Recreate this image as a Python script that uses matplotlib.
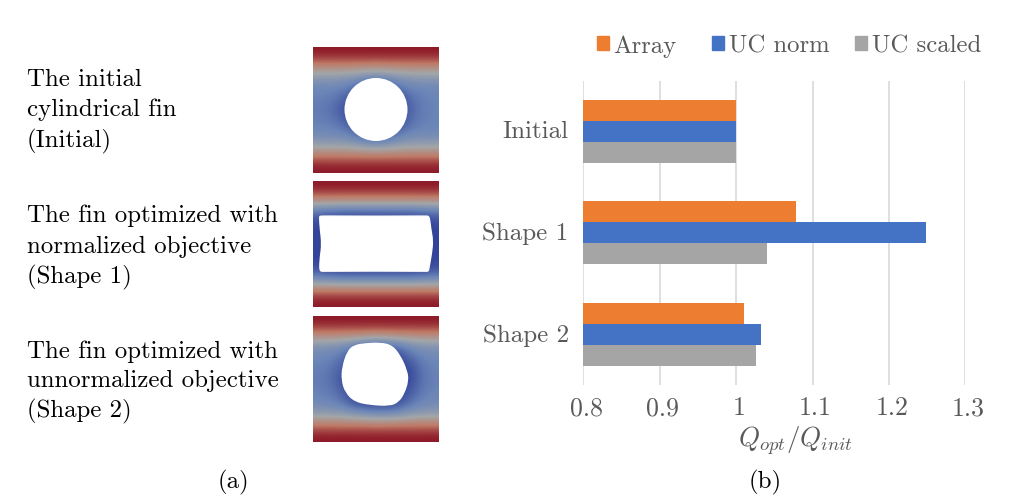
import numpy as np
import matplotlib
matplotlib.use("Agg")
import matplotlib.pyplot as plt
from matplotlib.colors import LinearSegmentedColormap
from matplotlib.patches import Circle, PathPatch, Patch
from matplotlib.path import Path
from matplotlib.transforms import ScaledTranslation

plt.rcParams['font.family'] = ['cmr10', 'DejaVu Serif']
plt.rcParams['mathtext.fontset'] = 'cm'
plt.rcParams['axes.formatter.use_mathtext'] = True

# bar chart data
categories = ['Initial', 'Shape 1', 'Shape 2']
array_vals = [1.0, 1.0785, 1.0105]
uc_norm = [1.0, 1.249, 1.033]
uc_scaled = [1.0, 1.041, 1.0257]
x_ticks = [0.8, 0.9, 1.0, 1.1, 1.2, 1.3]
x_tick_labels = ['0.8', '0.9', '1', '1.1', '1.2', '1.3']

# temperature fields, 0 = dark blue, 1 = dark red
field_initial = [
    [.97, .97, .97, .97, .97, .97, .97, .97, .97, .97, .97],
    [.75, .75, .75, .75, .75, .74, .75, .75, .75, .75, .75],
    [.42, .42, .41, .39, .35, .32, .35, .39, .41, .42, .42],
    [.27, .27, .25, .20, .08, .03, .08, .20, .25, .27, .27],
    [.24, .22, .17, .05, .02, .02, .02, .05, .18, .23, .25],
    [.22, .19, .10, .03, .02, .02, .02, .03, .14, .22, .25],
    [.24, .22, .17, .05, .02, .02, .02, .05, .18, .23, .25],
    [.27, .27, .25, .20, .08, .03, .08, .20, .25, .27, .27],
    [.42, .42, .41, .39, .35, .32, .35, .39, .41, .42, .42],
    [.75, .75, .75, .75, .75, .74, .75, .75, .75, .75, .75],
    [.97, .97, .97, .97, .97, .97, .97, .97, .97, .97, .97],
]
field_shape1 = [
    [.97, .97, .97, .97, .97, .97, .97, .97, .97, .97, .97],
    [.74, .74, .74, .74, .74, .74, .74, .74, .74, .74, .74],
    [.24, .22, .20, .20, .20, .20, .20, .20, .20, .22, .24],
    [.06, .02, .01, .01, .01, .01, .01, .01, .01, .02, .06],
    [.04, .01, .01, .01, .01, .01, .01, .01, .01, .01, .04],
    [.04, .01, .01, .01, .01, .01, .01, .01, .01, .01, .03],
    [.04, .01, .01, .01, .01, .01, .01, .01, .01, .01, .04],
    [.06, .02, .01, .01, .01, .01, .01, .01, .01, .02, .06],
    [.26, .24, .22, .22, .22, .22, .22, .22, .22, .24, .26],
    [.74, .74, .74, .74, .74, .74, .74, .74, .74, .74, .74],
    [.97, .97, .97, .97, .97, .97, .97, .97, .97, .97, .97],
]
field_shape2 = [
    [.97, .97, .97, .97, .97, .97, .97, .97, .97, .97, .97],
    [.74, .74, .74, .74, .74, .73, .74, .74, .74, .74, .74],
    [.37, .36, .33, .27, .17, .12, .15, .23, .31, .36, .37],
    [.27, .25, .20, .06, .03, .02, .03, .05, .18, .25, .28],
    [.24, .21, .13, .03, .02, .02, .02, .02, .06, .20, .25],
    [.22, .19, .08, .02, .02, .02, .02, .02, .05, .19, .24],
    [.24, .21, .14, .03, .02, .02, .02, .03, .10, .21, .25],
    [.27, .25, .20, .08, .03, .03, .03, .06, .18, .25, .28],
    [.40, .39, .38, .34, .30, .27, .26, .30, .36, .39, .40],
    [.75, .75, .75, .75, .75, .74, .75, .75, .75, .75, .75],
    [.97, .97, .97, .97, .97, .97, .97, .97, .97, .97, .97],
]

# fin outlines in percent of the picture, y measured from the top
hole_shape1 = [(6.5, 28), (8, 27.8), (50, 28), (90, 27.8), (91.5, 28), (92.5, 30), (93.4, 38), (95, 47), (94.2, 56.5),
               (92, 69), (91.5, 71.5), (89.7, 71.6), (50, 71.4), (8, 71.6), (6, 71.5), (5.3, 69), (5.8, 60.5), (7.2, 50),
               (5.8, 38), (5.3, 30), (5.4, 28)]
hole_shape2 = [(33, 23.3), (42.4, 22), (53, 21.5), (62.3, 23.3), (69, 31.3), (74.3, 43.2), (75.5, 51.2), (72, 61.8),
               (67.6, 68), (61, 71), (45, 70.2), (33, 67.6), (26, 60.5), (23, 51.2), (23.5, 40.6), (27.5, 28)]

W, H = 1021, 502
ORANGE, BLUE, GRAY = '#ed7d31', '#4472c4', '#a5a5a5'
TXT = '#595959'

fig = plt.figure(figsize=(W / 100, H / 100), dpi=100)


def box(x0, y0, x1, y1):
    # axes rectangle from pixel corners, y from the top
    return [x0 / W, 1 - y1 / H, (x1 - x0) / W, (y1 - y0) / H]


def put(x, y, s, **kw):
    fig.text(x / W, 1 - y / H, s, va='center', **kw)


def smooth_outline(pts):
    # closed quadratic curve through the midpoints of the outline points
    pts = np.array(pts, dtype=float)
    mids = (pts + np.roll(pts, -1, axis=0)) / 2
    verts = [mids[-1]]
    codes = [Path.MOVETO]
    for p, m in zip(pts, mids):
        verts += [p, m]
        codes += [Path.CURVE3, Path.CURVE3]
    return Path(verts, codes)


cmap = LinearSegmentedColormap.from_list('fin', ['#2b3a94', '#6a85b8', '#a3a6a8', '#bf7a66', '#860a1e'])

for field, y0, y1, hole in [(field_initial, 47.5, 173.5, None),
                            (field_shape1, 182, 308, hole_shape1),
                            (field_shape2, 317, 443, hole_shape2)]:
    a = fig.add_axes(box(313, y0, 439, y1))
    a.imshow(np.array(field), cmap=cmap, vmin=0, vmax=1, extent=(0, 100, 100, 0),
             interpolation='bicubic', aspect='auto')
    if hole is None:
        a.add_patch(Circle((50, 50), 25, fc='white', ec='none'))
    else:
        a.add_patch(PathPatch(smooth_outline(hole), fc='white', ec='white', lw=1))
    a.set_xlim(0, 100)
    a.set_ylim(100, 0)
    a.axis('off')

# left column captions
captions = [(27, 80, 'The initial'), (27, 110, 'cylindrical fin'), (27, 141, '(Initial)'),
            (27, 216, 'The fin optimized with'), (27, 247, 'normalized objective'), (27, 277, '(Shape 1)'),
            (27, 352, 'The fin optimized with'), (27, 381, 'unnormalized objective'), (27, 411, '(Shape 2)')]
for cx, cy, s in captions:
    put(cx, cy, s, fontsize=17.9, color='black', ha='left')

# bars
ax = fig.add_axes(box(583.3, 81.7, 965.3, 386))
y = np.arange(len(categories))
h = 0.207
ax.barh(y - h, array_vals, h, color=ORANGE, zorder=3)
ax.barh(y, uc_norm, h, color=BLUE, zorder=3)
ax.barh(y + h, uc_scaled, h, color=GRAY, zorder=3)
ax.set_xlim(0.8, 1.3)
ax.set_ylim(2.5, -0.5)
ax.set_xticks(x_ticks)
ax.set_xticklabels(x_tick_labels)
ax.set_yticks(y)
ax.set_yticklabels(categories)
ax.tick_params(length=0, colors=TXT)
ax.tick_params(axis='x', pad=7.5, labelsize=18.6)
ax.tick_params(axis='y', pad=10.5, labelsize=18)
# category labels sit a bit above the bar centres, value labels a bit to the right
up = ScaledTranslation(0, 2.5 / 100, fig.dpi_scale_trans)
for lab in ax.get_yticklabels():
    lab.set_transform(lab.get_transform() + up)
right = ScaledTranslation(3 / 100, 0, fig.dpi_scale_trans)
for lab in ax.get_xticklabels():
    lab.set_transform(lab.get_transform() + right)
ax.grid(axis='x', color='#d9d9d9', lw=1.2, zorder=0)
for s in ax.spines.values():
    s.set_visible(False)
ax.set_axisbelow(True)

# the gaps between legend entries are uneven in the original, so one legend each
for name, col, lx in [('Array', ORANGE, 597), ('UC norm', BLUE, 712), ('UC scaled', GRAY, 855)]:
    fig.legend(handles=[Patch(color=col, label=name)], loc='center left', bbox_to_anchor=(lx / W, 1 - 46.5 / H),
               frameon=False, fontsize=17.8, labelcolor=TXT, handlelength=0.5, handleheight=0.5,
               handletextpad=0.17, borderpad=0, borderaxespad=0)

put(796, 441, r'$Q_{opt}/Q_{init}$', fontsize=19.3, color=TXT, ha='center')
put(233, 482, '(a)', fontsize=17.9, color='black', ha='center')
put(765, 482, '(b)', fontsize=17.9, color='black', ha='center')

fig.savefig('out.png', dpi=100)
